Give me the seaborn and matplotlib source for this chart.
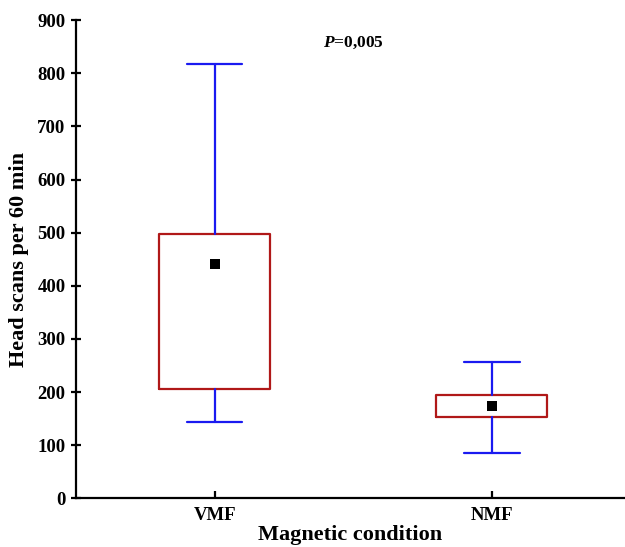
import numpy as np
import pandas as pd
import matplotlib.pyplot as plt
import seaborn as sns

# whisker ends, box edges and mean for each condition
conditions = ["VMF", "NMF"]
whisker_low = [143, 85]
box_low = [205, 154]
box_high = [497, 195]
whisker_high = [817, 256]
means = [442, 174]
p_text = "=0,005"

sns.set_theme(style="ticks")
plt.rcParams["font.family"] = ["Liberation Serif", "DejaVu Serif"]
plt.rcParams["text.color"] = "black"
plt.rcParams["axes.labelcolor"] = "black"
plt.rcParams["xtick.color"] = "black"
plt.rcParams["ytick.color"] = "black"
plt.rcParams["mathtext.fontset"] = "custom"
plt.rcParams["mathtext.it"] = "Liberation Serif:italic:bold"
plt.rcParams["mathtext.rm"] = "Liberation Serif:bold"

fig = plt.figure(figsize=(6.25, 5.47), dpi=100)
ax = fig.add_axes([0.1216, 0.089, 0.8784, 0.874])

stats = []
for i, name in enumerate(conditions):
    stats.append({"label": name,
                  "whislo": whisker_low[i], "q1": box_low[i],
                  "med": box_low[i], "q3": box_high[i],
                  "whishi": whisker_high[i], "fliers": []})

ax.bxp(stats, positions=range(len(conditions)), widths=0.4, capwidths=0.2,
       showfliers=False, patch_artist=False,
       boxprops=dict(color="#B01818", linewidth=1.6),
       whiskerprops=dict(color="#1A1AF0", linewidth=1.6),
       capprops=dict(color="#1A1AF0", linewidth=1.6),
       medianprops=dict(linewidth=0))

mean_df = pd.DataFrame({"Magnetic condition": conditions, "Mean": means})
sns.scatterplot(data=mean_df, x=range(len(conditions)), y="Mean", marker="s",
                color="black", s=60, edgecolor="black", linewidth=0, ax=ax,
                zorder=5)

ax.set_xlim(-0.5, 1.48)
ax.set_ylim(0, 900)
ax.set_yticks(range(0, 901, 100))
ax.set_xticks(range(len(conditions)))
ax.set_xticklabels(conditions)

for s in ["top", "right"]:
    ax.spines[s].set_visible(False)
for s in ["left", "bottom"]:
    ax.spines[s].set_linewidth(1.6)
    ax.spines[s].set_color("black")

ax.tick_params(axis="y", direction="inout", length=7, width=1.6, pad=4,
               labelsize=13.5)
ax.tick_params(axis="x", direction="in", length=5, width=1.6, pad=6,
               labelsize=13.5)
for lab in ax.get_xticklabels() + ax.get_yticklabels():
    lab.set_fontweight("bold")

ax.set_ylabel("Head scans per 60 min", fontsize=16, fontweight="bold",
              labelpad=6)
ax.set_xlabel("Magnetic condition", fontsize=16, fontweight="bold",
              labelpad=1)

ax.text(0.506, 0.952, r"$\mathit{P}$" + p_text, transform=ax.transAxes,
        ha="center", va="center", fontsize=12.5, fontweight="bold")

fig.savefig("out.png", dpi=100)
